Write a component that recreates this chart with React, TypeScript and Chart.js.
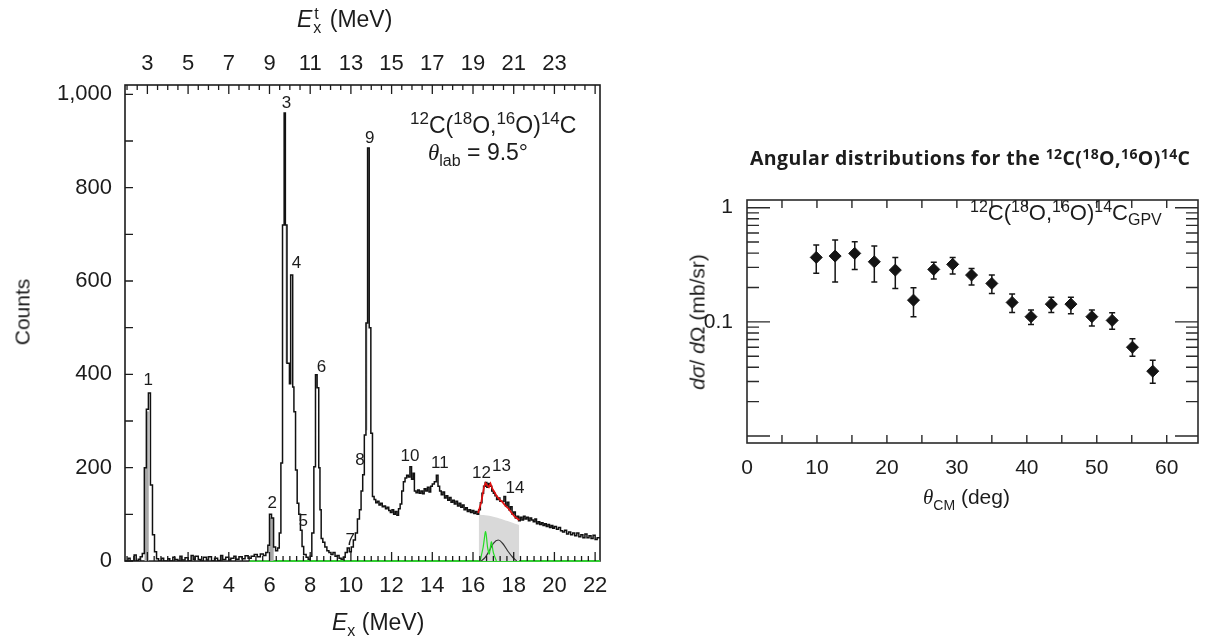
import React, { useEffect, useRef } from "react";
import { Chart, registerables } from "chart.js";
Chart.register(...registerables);

const LS = "'Liberation Sans', Arial, Helvetica, sans-serif";
const SERIF = "'Liberation Serif', 'DejaVu Serif', serif";
const INK = "#1c1c1c";

// ---------------- Left panel: excitation-energy spectrum ----------------
// bin left edges (MeV) and counts
const specE = [
  -1.1, -0.95, -0.85, -0.65, -0.55, -0.45, -0.35, -0.25, -0.15, -0.05, 0.05, 0.15, 0.25, 0.35, 0.45, 0.55,
  0.7, 0.8, 1.0, 1.1, 1.25, 1.35, 1.5, 1.6, 1.7, 1.85, 2.0, 2.15, 2.25, 2.35, 2.5, 2.6, 2.75, 2.9, 3.0, 3.15,
  3.3, 3.45, 3.6, 3.7, 3.85, 4.0, 4.1, 4.25, 4.35, 4.5, 4.65, 4.8, 4.95, 5.1, 5.25, 5.4, 5.55, 5.7, 5.82, 5.92,
  6.0, 6.1, 6.2, 6.3, 6.4, 6.48, 6.56, 6.64, 6.72, 6.78, 6.86, 6.98, 7.04, 7.14, 7.2, 7.28, 7.36, 7.44, 7.52,
  7.6, 7.68, 7.8, 7.9, 8.0, 8.08, 8.18, 8.26, 8.34, 8.42, 8.48, 8.54, 8.62, 8.72, 8.82, 8.92, 9.02, 9.12, 9.22,
  9.32, 9.42, 9.52, 9.62, 9.72, 9.82, 9.92, 10.02, 10.12, 10.22, 10.32, 10.42, 10.5, 10.58, 10.66, 10.74, 10.82,
  10.9, 10.98, 11.06, 11.14, 11.22, 11.3, 11.38, 11.46, 11.54, 11.62, 11.7, 11.78, 11.86, 11.94, 12.02, 12.1,
  12.18, 12.26, 12.34, 12.42, 12.5, 12.58, 12.66, 12.74, 12.82, 12.9, 12.98, 13.06, 13.12, 13.2, 13.28, 13.36,
  13.44, 13.52, 13.6, 13.68, 13.76, 13.84, 13.92, 14.0, 14.1, 14.2, 14.28, 14.36, 14.44, 14.52, 14.6, 14.68,
  14.76, 14.84, 14.92, 15.0, 15.08, 15.16, 15.24, 15.32, 15.4, 15.48, 15.56, 15.64, 15.72, 15.8, 15.88, 15.96,
  16.04, 16.12, 16.2, 16.28, 16.36, 16.44, 16.52, 16.6, 16.68, 16.76, 16.84, 16.92, 17.0, 17.08, 17.16, 17.24,
  17.32, 17.44, 17.52, 17.6, 17.68, 17.76, 17.84, 17.92, 18.0, 18.08, 18.16, 18.24, 18.32, 18.4, 18.48, 18.56,
  18.64, 18.72, 18.8, 18.88, 18.96, 19.04, 19.12, 19.2, 19.28, 19.36, 19.44, 19.52, 19.6, 19.68, 19.76, 19.84,
  19.92, 20.0, 20.1, 20.2, 20.3, 20.4, 20.5, 20.6, 20.7, 20.8, 20.9, 21.0, 21.1, 21.2, 21.3, 21.4, 21.5, 21.6,
  21.7, 21.8, 21.9, 22.0, 22.1, 22.24,
];
const specC = [
  0, 6, 0, 13, 0, 4, 9, 16, 200, 325, 360, 163, 56, 20, 5, 0,
  6, 0, 5, 0, 8, 3, 0, 10, 2, 7, 0, 12, 4, 10, 3, 0, 8, 2, 9, 0,
  6, 1, 12, 3, 8, 2, 6, 10, 4, 9, 5, 11, 6, 10, 14, 9, 15, 12, 18, 34,
  100, 92, 30, 22, 28, 60, 210, 720, 960, 720, 424, 380, 613, 373, 320, 195, 124, 100, 66,
  31, 14, 8, 4, 10, 60, 202, 399, 371, 200, 110, 48, 40, 30, 22, 18, 14, 18, 10,
  12, 6, 4, 8, 18, 28, 20, 30, 45, 60, 90, 110, 150, 185, 270, 510, 885,
  500, 274, 138, 132, 125, 128, 120, 124, 116, 118, 112, 115, 108, 104, 110, 100,
  106, 98, 112, 122, 150, 170, 178, 184, 180, 202, 175, 188, 150, 146, 152, 145,
  150, 144, 155, 150, 158, 148, 160, 165, 170, 184, 160, 150, 142, 148, 135, 140,
  130, 136, 126, 130, 122, 128, 118, 124, 115, 120, 110, 114, 106, 110, 104, 108,
  102, 106, 100, 110, 125, 145, 160, 168, 158, 166, 160, 150, 145, 140, 132, 135,
  128, 128, 138, 118, 126, 110, 116, 100, 105, 92, 96, 86, 94, 88, 96, 90,
  94, 86, 92, 88, 84, 90, 80, 84, 78, 82, 76, 80, 74, 78, 72, 76,
  70, 74, 68, 72, 65, 62, 66, 58, 62, 56, 60, 54, 60, 52, 56, 50, 58, 50,
  54, 48, 55, 46, 50, 50,
];
// grey interior of the narrow peaks (filled down to the axis)
const shadeE = [-0.15, -0.05, 0.05, 6.0, 6.2];
const shadeC = [200, 320, 0, 92, 0];
// grey band inside peak 3 (filled down to 424 counts)
const shade3E = [6.78, 6.86];
const shade3C = [720, 720];
const shade3Floor = 424;
// grey band inside peak 9 (filled down to 280 counts)
const shade9E = [10.74, 10.82];
const shade9C = [510, 510];
const shade9Floor = 280;
// fitted background band (light grey)
const bgE = [16.28, 16.6, 17.0, 17.4, 17.8, 18.27];
const bgC = [99, 98, 95, 90, 84, 77];
// red total fit
const redE = [16.25, 16.4, 16.55, 16.62, 16.7, 16.78, 16.86, 16.95, 17.05, 17.15, 17.3, 17.45, 17.6, 17.75, 17.9, 18.05, 18.2, 18.28];
const redC = [103, 125, 160, 167, 162, 158, 166, 155, 148, 140, 132, 126, 118, 112, 103, 95, 90, 88];
// green peak components
const greenE = [16.35, 16.5, 16.62, 16.72, 16.8, 16.9, 17.0, 17.15];
const greenC = [0, 30, 63, 28, 15, 41, 18, 0];
// dark broad component
const darkE = [16.4, 16.6, 16.8, 17.0, 17.24, 17.45, 17.7, 17.95, 18.15];
const darkC = [0, 8, 22, 38, 45, 38, 22, 8, 0];
// green baseline
const baseE = [5.0, 22.24];
const baseC = [0, 0];

const exTicks = [0, 2, 4, 6, 8, 10, 12, 14, 16, 18, 20, 22];
const exTopTicks = [3, 5, 7, 9, 11, 13, 15, 17, 19, 21, 23];
const countTicks = [0, 200, 400, 600, 800, 1000];

const peakLabels = ["1", "2", "3", "4", "5", "6", "7", "8", "9", "10", "11", "12", "13", "14"];
const peakLabelE = [0.04, 6.13, 6.84, 7.33, 7.66, 8.56, 9.97, 10.44, 10.93, 12.9, 14.37, 16.42, 17.4, 18.06];
const peakLabelC = [388, 124, 981, 638, 84, 416, 44, 216, 906, 224, 209, 188, 202, 156];

// ---------------- Right panel: angular distribution ----------------
const thetaCM = [9.9, 12.6, 15.4, 18.2, 21.2, 23.8, 26.7, 29.4, 32.1, 35.0, 37.9, 40.6, 43.5, 46.3, 49.3, 52.2, 55.1, 58.0];
const xsec = [0.367, 0.377, 0.398, 0.336, 0.284, 0.155, 0.288, 0.319, 0.257, 0.217, 0.148, 0.111, 0.143, 0.143, 0.111, 0.103, 0.06, 0.037];
const xsecHi = [0.471, 0.521, 0.504, 0.461, 0.367, 0.199, 0.332, 0.367, 0.294, 0.257, 0.175, 0.127, 0.164, 0.164, 0.127, 0.12, 0.071, 0.046];
const xsecLo = [0.266, 0.224, 0.288, 0.224, 0.196, 0.111, 0.237, 0.262, 0.21, 0.177, 0.121, 0.095, 0.121, 0.118, 0.092, 0.086, 0.05, 0.029];
const thetaTicks = [0, 10, 20, 30, 40, 50, 60];
const xsecTicks = [0.1, 1];

const pts = (xs: number[], ys: number[]) => xs.map((x, i) => ({ x, y: ys[i] }));

const leftDecor = {
  id: "leftDecor",
  beforeDatasetsDraw(chart: any) {
    const { ctx, chartArea: a } = chart;
    ctx.save();
    ctx.strokeStyle = INK;
    ctx.lineWidth = 1.6;
    ctx.strokeRect(a.left, a.top, a.right - a.left, a.bottom - a.top);
    ctx.restore();
  },
  afterDatasetsDraw(chart: any) {
    const { ctx, chartArea: a, scales } = chart;
    const x = scales.x, y = scales.y, xt = scales.xTop;
    ctx.save();
    ctx.strokeStyle = INK;
    ctx.lineWidth = 1.3;
    ctx.beginPath();
    for (let v = 0; v <= 1000; v += 100) {
      const py = y.getPixelForValue(v);
      ctx.moveTo(a.left, py);
      ctx.lineTo(a.left + 8, py);
    }
    for (let k = -3; k <= 66; k++) {
      const px = x.getPixelForValue(k / 3);
      if (px <= a.left + 1 || px >= a.right - 1) continue;
      const len = k % 6 === 0 ? 9 : 5;
      ctx.moveTo(px, a.bottom);
      ctx.lineTo(px, a.bottom - len);
    }
    for (let k = 4; k <= 51; k++) {
      const v = k / 2;
      const px = xt.getPixelForValue(v);
      if (px <= a.left + 1 || px >= a.right - 1) continue;
      const len = k % 4 === 2 ? 9 : 5;
      ctx.moveTo(px, a.top);
      ctx.lineTo(px, a.top + len);
    }
    ctx.stroke();
    ctx.font = `17px ${LS}`;
    ctx.fillStyle = INK;
    ctx.textAlign = "center";
    ctx.textBaseline = "middle";
    peakLabels.forEach((t, i) => ctx.fillText(t, x.getPixelForValue(peakLabelE[i]), y.getPixelForValue(peakLabelC[i])));
    ctx.restore();
  },
};

const rightDecor = {
  id: "rightDecor",
  beforeDatasetsDraw(chart: any) {
    const { ctx, chartArea: a, scales } = chart;
    const x = scales.x, y = scales.y;
    ctx.save();
    ctx.strokeStyle = "#2a2a2a";
    ctx.lineWidth = 1.6;
    ctx.strokeRect(a.left, a.top, a.right - a.left, a.bottom - a.top);
    ctx.lineWidth = 1.4;
    ctx.beginPath();
    for (let v = 5; v <= 60; v += 5) {
      const px = x.getPixelForValue(v);
      ctx.moveTo(px, a.bottom);
      ctx.lineTo(px, a.bottom - 8);
      ctx.moveTo(px, a.top);
      ctx.lineTo(px, a.top + 8);
    }
    [0.01, 0.1, 1].forEach((d) => {
      for (let m = 1; m <= 9; m++) {
        const v = m * d;
        if (v < y.min || v > y.max) continue;
        const py = y.getPixelForValue(v);
        const len = m === 1 ? 23 : 12;
        ctx.moveTo(a.left, py);
        ctx.lineTo(a.left + len, py);
        ctx.moveTo(a.right, py);
        ctx.lineTo(a.right - len, py);
      }
    });
    ctx.stroke();
    // error bars
    ctx.strokeStyle = "#151515";
    ctx.lineWidth = 1.5;
    ctx.beginPath();
    thetaCM.forEach((t, i) => {
      const px = x.getPixelForValue(t);
      const ph = y.getPixelForValue(xsecHi[i]);
      const pl = y.getPixelForValue(xsecLo[i]);
      ctx.moveTo(px, ph);
      ctx.lineTo(px, pl);
      ctx.moveTo(px - 3, ph);
      ctx.lineTo(px + 3, ph);
      ctx.moveTo(px - 3, pl);
      ctx.lineTo(px + 3, pl);
    });
    ctx.stroke();
    ctx.restore();
  },
};

const sup = (t: string, size: number, rise: number) => (
  <span style={{ fontSize: size, position: "relative", top: -rise }}>{t}</span>
);

function Reaction({ size, supSize, rise, bold }: { size: number; supSize: number; rise: number; bold?: boolean }) {
  return (
    <span style={{ fontSize: size, fontWeight: bold ? 700 : 400 }}>
      {sup("12", supSize, rise)}C({sup("18", supSize, rise)}O,{sup("16", supSize, rise)}O){sup("14", supSize, rise)}C
    </span>
  );
}

export default function App() {
  const leftRef = useRef<HTMLCanvasElement>(null);
  const rightRef = useRef<HTMLCanvasElement>(null);

  useEffect(() => {
    const tickFont = { family: LS, size: 22 };
    const left = new Chart(leftRef.current as HTMLCanvasElement, {
      type: "line",
      data: {
        datasets: [
          { data: pts(redE, redC), borderColor: "#e01010", borderWidth: 1.7, pointRadius: 0, tension: 0 },
          { data: pts(specE, specC), stepped: "before", borderColor: "#111", borderWidth: 1.5, pointRadius: 0 },
          { data: pts(greenE, greenC), borderColor: "#22dd22", borderWidth: 1.2, pointRadius: 0, tension: 0.3 },
          { data: pts(darkE, darkC), borderColor: "#333", borderWidth: 1.2, pointRadius: 0, tension: 0.4 },
          { data: pts(shadeE, shadeC), stepped: "before", borderColor: "#9a9a9a", borderWidth: 0.5, backgroundColor: "#a8a8a8", fill: "origin", pointRadius: 0 },
          { data: pts(shade3E, shade3C), borderColor: "#9a9a9a", borderWidth: 0.5, backgroundColor: "#a0a0a0", fill: { value: shade3Floor }, pointRadius: 0 },
          { data: pts(shade9E, shade9C), borderColor: "#9a9a9a", borderWidth: 0.5, backgroundColor: "#a0a0a0", fill: { value: shade9Floor }, pointRadius: 0 },
          { data: pts(bgE, bgC), borderColor: "#d6d6d6", borderWidth: 0, backgroundColor: "#d9d9d9", fill: "origin", pointRadius: 0, tension: 0.3 },
          { data: pts(baseE, baseC), borderColor: "#33cc33", borderWidth: 2, pointRadius: 0, clip: 4 } as any,
        ],
      },
      options: {
        responsive: false,
        animation: false,
        devicePixelRatio: 1,
        layout: { padding: { left: 0, right: 20, top: 0, bottom: 0 } },
        plugins: { legend: { display: false }, tooltip: { enabled: false } },
        scales: {
          x: {
            type: "linear",
            position: "bottom",
            min: -1.1,
            max: 22.24,
            grid: { display: false, drawTicks: false },
            border: { display: false },
            ticks: { font: tickFont, color: INK, padding: 12, maxRotation: 0 },
            afterBuildTicks: (s: any) => { s.ticks = exTicks.map((v) => ({ value: v })); },
            afterFit: (s: any) => { s.height = 80; },
          },
          xTop: {
            type: "linear",
            axis: "x",
            position: "top",
            min: 1.9,
            max: 25.24,
            grid: { display: false, drawTicks: false },
            border: { display: false },
            ticks: { font: tickFont, color: INK, padding: 8, maxRotation: 0 },
            afterBuildTicks: (s: any) => { s.ticks = exTopTicks.map((v) => ({ value: v })); },
            afterFit: (s: any) => { s.height = 85; },
          },
          y: {
            type: "linear",
            min: 0,
            max: 1020,
            grid: { display: false, drawTicks: false },
            border: { display: false },
            ticks: { font: tickFont, color: INK, padding: 13, callback: (v: any) => Number(v).toLocaleString("en-US") },
            afterBuildTicks: (s: any) => { s.ticks = countTicks.map((v) => ({ value: v })); },
            afterFit: (s: any) => { s.width = 125; },
          },
        },
      } as any,
      plugins: [leftDecor],
    });

    const rFont = { family: LS, size: 21 };
    const right = new Chart(rightRef.current as HTMLCanvasElement, {
      type: "scatter",
      data: {
        datasets: [
          {
            data: pts(thetaCM, xsec),
            pointStyle: "rectRot",
            pointRadius: 6,
            backgroundColor: "#141414",
            borderColor: "#141414",
            borderWidth: 1,
          },
        ],
      },
      options: {
        responsive: false,
        animation: false,
        devicePixelRatio: 1,
        layout: { padding: { left: 0, right: 8, top: 80, bottom: 0 } },
        plugins: { legend: { display: false }, tooltip: { enabled: false } },
        scales: {
          x: {
            type: "linear",
            min: 0,
            max: 64.47,
            grid: { display: false, drawTicks: false },
            border: { display: false },
            ticks: { font: rFont, color: INK, padding: 13, maxRotation: 0 },
            afterBuildTicks: (s: any) => { s.ticks = thetaTicks.map((v) => ({ value: v })); },
            afterFit: (s: any) => { s.height = 77; },
          },
          y: {
            type: "logarithmic",
            min: 0.00869,
            max: 1.168,
            grid: { display: false, drawTicks: false },
            border: { display: false },
            ticks: { font: rFont, color: INK, padding: 14, callback: (v: any) => (v === 1 ? "1" : v === 0.1 ? "0.1" : "") },
            afterBuildTicks: (s: any) => { s.ticks = xsecTicks.map((v) => ({ value: v })); },
            afterFit: (s: any) => { s.width = 127; },
          },
        },
      } as any,
      plugins: [rightDecor],
    });

    return () => {
      left.destroy();
      right.destroy();
    };
  }, []);

  const abs = (l: number, t: number, extra: any = {}) => ({ position: "absolute" as const, left: l, top: t, whiteSpace: "nowrap" as const, lineHeight: 1, ...extra });

  return (
    <div style={{ position: "absolute", left: 0, top: 0, width: 1206, height: 641, background: "#fff", overflow: "hidden", fontFamily: LS, color: INK }}>
      <canvas ref={leftRef} width={620} height={641} style={{ position: "absolute", left: 0, top: 0 }} />
      <canvas ref={rightRef} width={586} height={400} style={{ position: "absolute", left: 620, top: 120 }} />

      {/* left panel texts */}
      <div style={abs(22, 312, { fontSize: 21, transform: "translate(-50%,-50%) rotate(-90deg)" })}>Counts</div>
      <div style={abs(297, 8, { fontSize: 23 })}>
        <i>E</i>
        <span style={{ display: "inline-block", position: "relative", width: 11, height: 10 }}>
          <span style={{ position: "absolute", left: 2, top: -11, fontSize: 16 }}>t</span>
          <span style={{ position: "absolute", left: 1, top: 3, fontSize: 16 }}>x</span>
        </span>
        {" "}(MeV)
      </div>
      <div style={abs(332, 611, { fontSize: 23 })}>
        <i>E</i>
        <span style={{ fontSize: 16, position: "relative", top: 6 }}>x</span> (MeV)
      </div>
      <div style={abs(410, 114, {})}>
        <Reaction size={23} supSize={17} rise={9} />
      </div>
      <div style={abs(428, 141, { fontSize: 23 })}>
        <i style={{ fontFamily: SERIF }}>θ</i>
        <span style={{ fontSize: 16, position: "relative", top: 6 }}>lab</span> = 9.5°
      </div>

      {/* right panel texts */}
      <div style={abs(750, 148, { fontFamily: "'Open Sans', sans-serif", fontWeight: 700, fontSize: 19.5, letterSpacing: 0.4 })}>
        Angular distributions for the <Reaction size={19.5} supSize={14} rise={6} bold />
      </div>
      <div style={abs(970, 202, {})}>
        <Reaction size={22} supSize={16} rise={8} />
        <span style={{ fontSize: 16, position: "relative", top: 5 }}>GPV</span>
      </div>
      <div style={abs(697, 322, { fontSize: 21, transform: "translate(-50%,-50%) rotate(-90deg)" })}>
        <i>d</i>
        <i>σ</i>/ <i>d</i>Ω (mb/sr)
      </div>
      <div style={abs(923, 486, { fontSize: 21 })}>
        <i style={{ fontFamily: SERIF }}>θ</i>
        <span style={{ fontSize: 14, position: "relative", top: 6 }}>CM</span> (deg)
      </div>
    </div>
  );
}
